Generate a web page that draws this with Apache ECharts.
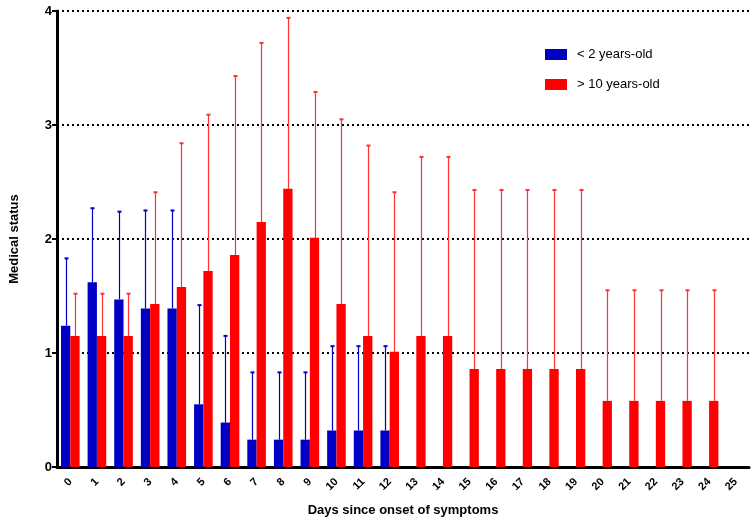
<!DOCTYPE html>
<html>
<head>
<meta charset="utf-8">
<script src="https://cdn.jsdelivr.net/npm/echarts@6/dist/echarts.min.js"></script>
<style>html,body{margin:0;padding:0;background:#fff;}#c{width:754px;height:525px;}</style>
</head>
<body>
<div id="c"></div>
<script>
const days = ['0','1','2','3','4','5','6','7','8','9','10','11','12','13','14','15','16','17','18','19','20','21','22','23','24','25'];
const youngMean  = [1.24,1.62,1.47,1.39,1.39,0.55,0.39,0.24,0.24,0.24,0.32,0.32,0.32,null,null,null,null,null,null,null,null,null,null,null,null,null];
const youngUpper = [1.83,2.27,2.24,2.25,2.25,1.42,1.15,0.83,0.83,0.83,1.06,1.06,1.06,null,null,null,null,null,null,null,null,null,null,null,null,null];
const oldMean    = [1.15,1.15,1.15,1.43,1.58,1.72,1.86,2.15,2.44,2.01,1.43,1.15,1.01,1.15,1.15,0.86,0.86,0.86,0.86,0.86,0.58,0.58,0.58,0.58,0.58,null];
const oldUpper   = [1.52,1.52,1.52,2.41,2.84,3.09,3.43,3.72,3.94,3.29,3.05,2.82,2.41,2.72,2.72,2.43,2.43,2.43,2.43,2.43,1.55,1.55,1.55,1.55,1.55,null];
const yTicks = [0,1,2,3,4];
const seriesNames = ['< 2 years-old','> 10 years-old'];
const BLUE = '#0000C4', RED = '#FF0000';

function errData(mean, upper){
  const out = [];
  for (let i = 0; i < mean.length; i++) {
    if (mean[i] != null && upper[i] != null) out.push([i, mean[i], upper[i]]);
  }
  return out;
}
function errRender(sign, color){
  return function(params, api){
    const i = api.value(0), m = api.value(1), u = api.value(2);
    const band = api.size([1,0])[0];
    const p0 = api.coord([i, m]);
    const p1 = api.coord([i, u]);
    const x = Math.round(p0[0] + sign*band*0.175) + 0.5;
    const cw = 2;
    const st = {stroke: color, lineWidth: 1.2};
    return {type:'group', children:[
      {type:'line', shape:{x1:x, y1:p0[1], x2:x, y2:p1[1]}, style:st},
      {type:'line', shape:{x1:x-cw, y1:p1[1], x2:x+cw, y2:p1[1]}, style:{stroke:color, lineWidth:2}}
    ]};
  };
}

const chart = echarts.init(document.getElementById('c'));
chart.setOption({
  animation:false,
  textStyle:{fontFamily:'Liberation Sans, Arial, sans-serif'},
  grid:{left:57, right:5, top:11, bottom:58},
  legend:{
    data:seriesNames, orient:'vertical', left:545, top:48, itemWidth:22, itemHeight:11, itemGap:17,
    icon:'rect', padding:0,
    textStyle:{fontSize:13, color:'#000', padding:[0,0,0,5]}
  },
  xAxis:{
    type:'category', data:days,
    name:'Days since onset of symptoms', nameLocation:'middle', nameGap:37,
    nameTextStyle:{fontSize:13, fontWeight:'bold', color:'#000'},
    axisLine:{lineStyle:{color:'#000', width:3}},
    axisTick:{alignWithLabel:true, length:6, lineStyle:{color:'#000', width:2}},
    axisLabel:{rotate:45, fontSize:11, fontWeight:'bold', color:'#000', margin:13, interval:0}
  },
  yAxis:{
    type:'value', min:yTicks[0], max:yTicks[yTicks.length-1], interval:1,
    name:'Medical status', nameLocation:'middle', nameGap:36,
    nameTextStyle:{fontSize:13, fontWeight:'bold', color:'#000'},
    axisLine:{show:true, lineStyle:{color:'#000', width:3}},
    axisTick:{show:true, length:5, lineStyle:{color:'#000', width:2}},
    axisLabel:{fontSize:13, fontWeight:'bold', color:'#000', margin:5},
    splitLine:{show:true, lineStyle:{color:'#000', width:2, type:[2,3]}}
  },
  series:[
    {name:seriesNames[0], type:'bar', data:youngMean, barWidth:'35%', barGap:'0%', itemStyle:{color:BLUE}},
    {name:seriesNames[1], type:'bar', data:oldMean, barWidth:'35%', barGap:'0%', itemStyle:{color:RED}},
    {type:'custom', name:'errYoung', data:errData(youngMean, youngUpper), encode:{x:0, y:[1,2]}, renderItem:errRender(-1, BLUE), z:3},
    {type:'custom', name:'errOld', data:errData(oldMean, oldUpper), encode:{x:0, y:[1,2]}, renderItem:errRender(1, '#FF3030'), z:3}
  ]
});
</script>
</body>
</html>
